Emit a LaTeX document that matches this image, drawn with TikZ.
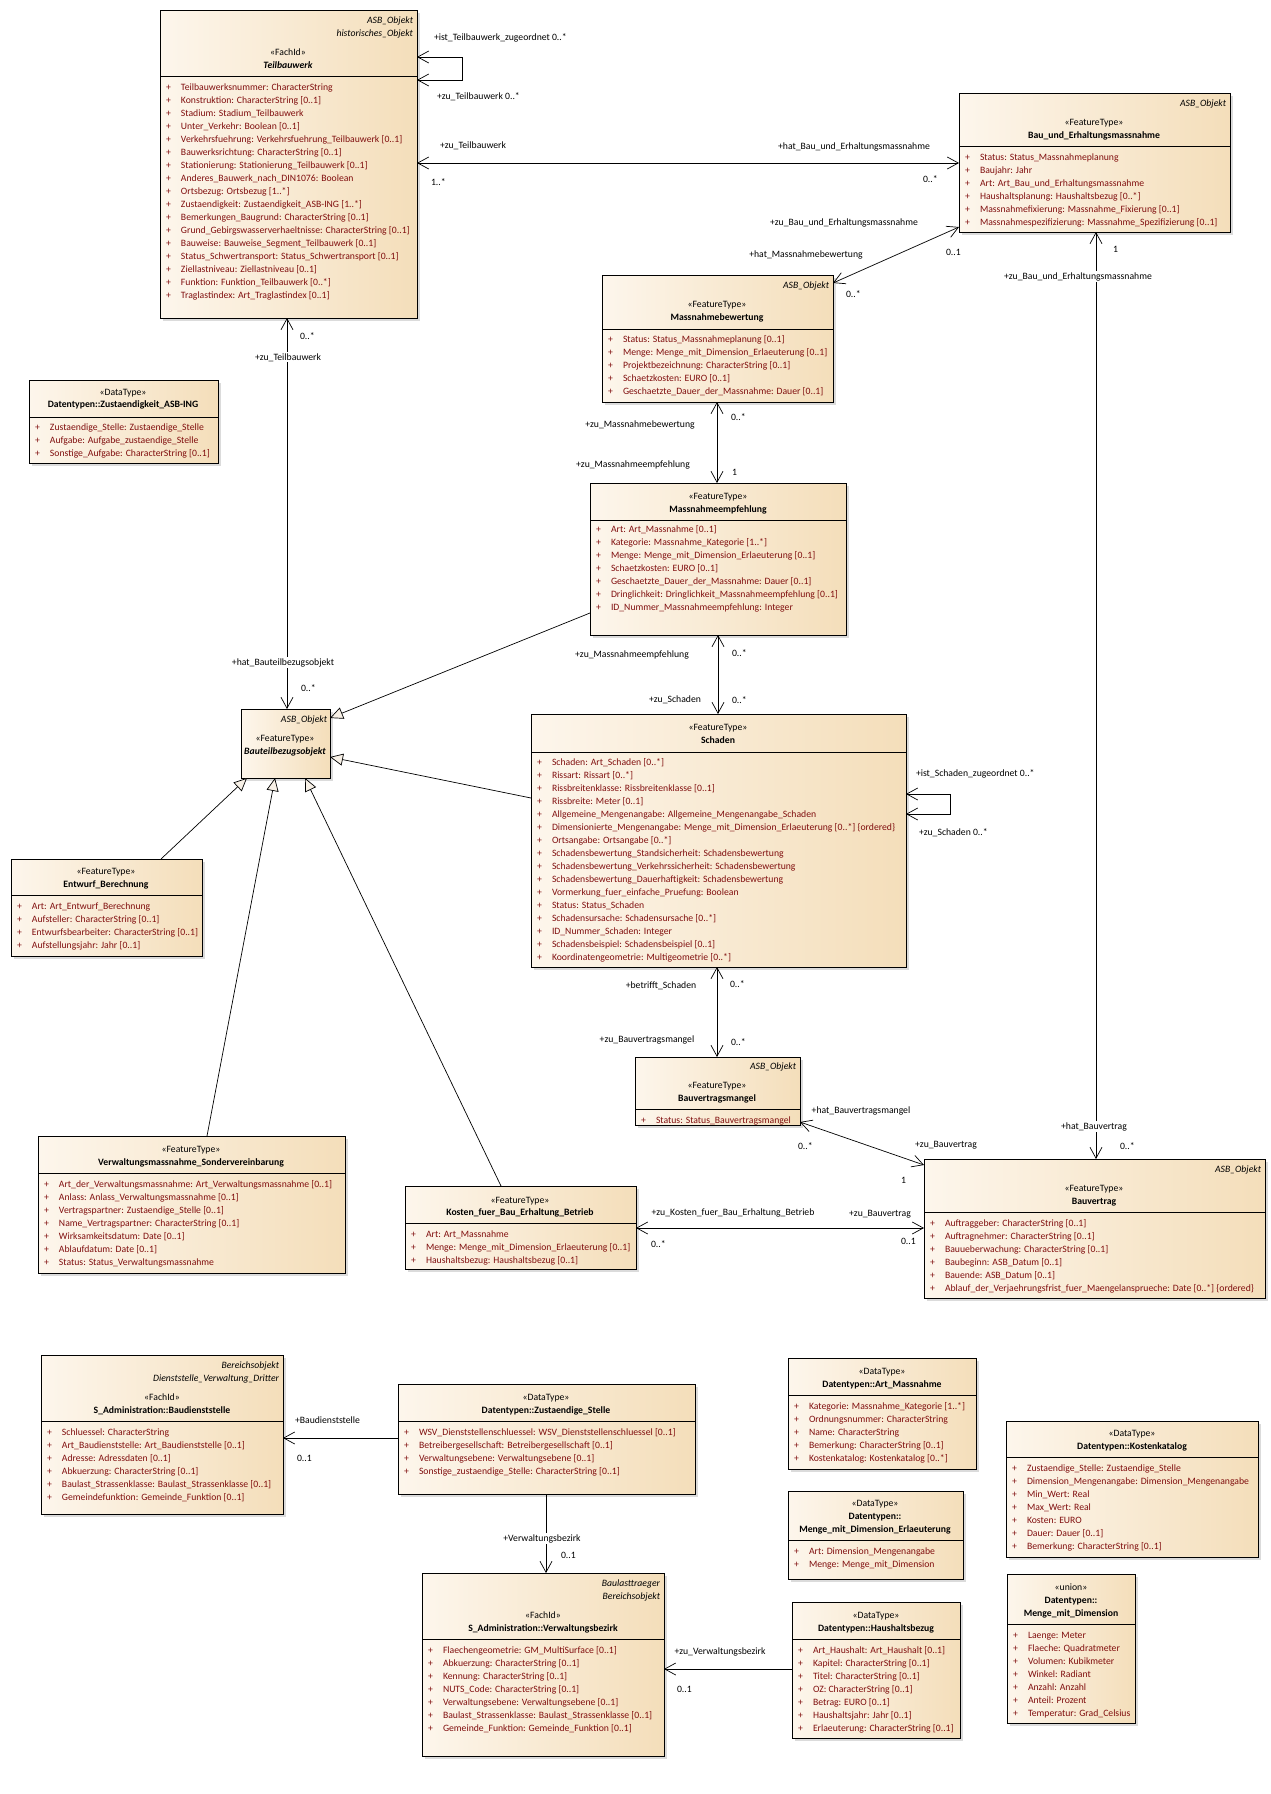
\documentclass[tikz,border=0pt]{standalone}
\usepackage{fontspec}
\setmainfont{Carlito}
\usetikzlibrary{arrows.meta,shadows}
\definecolor{attrc}{RGB}{128,14,14}
\definecolor{fillL}{RGB}{253,246,236}
\definecolor{fillR}{RGB}{244,222,186}
\definecolor{gencol}{RGB}{247,240,230}
\newcommand\fs{\fontsize{9.7}{13}\selectfont}
\newcommand\ua[1]{\makebox[15pt][l]{+}#1\\}
\newcommand\umlbox[6]{%
  \node[clsbox, minimum width={#4-#2}, minimum height={#5-#3}, anchor=north west] (#1) at (#2,#3) {};
  \draw[sepline] (#2,#6) -- (#4,#6);}
\tikzset{
  ob/.tip={Straight Barb[length=11pt,width=12pt]},
  gt/.tip={Triangle[length=13pt,width=12pt,fill=gencol]},
}
\begin{document}
\begin{tikzpicture}[x=1pt,y=-1pt,
  every node/.style={inner sep=0pt, outer sep=0pt},
  clsbox/.style={draw=black, line width=0.75pt, left color=fillL, right color=fillR,
    drop shadow={shadow xshift=3pt, shadow yshift=-3pt, fill=black!14, opacity=1}},
  sepline/.style={draw=black, line width=0.75pt},
  assoc/.style={draw=black, line width=0.7pt},
  stereo/.style={font=\fs, anchor=base, yshift=-3pt},
  cname/.style={font=\fs\bfseries, anchor=base, yshift=-3pt},
  aname/.style={font=\fs\bfseries\itshape, anchor=base, yshift=-3pt},
  tag/.style={font=\fs\itshape, anchor=base east, yshift=-3pt},
  attrs/.style={font=\fs, text=attrc, anchor=base west, yshift=-3pt},
  lbl/.style={font=\fs, anchor=base, yshift=-3pt, fill=white, inner sep=1pt},
  lblw/.style={lbl, anchor=base west},
]
\fill[white] (0,0) rectangle (1271,1794);
\useasboundingbox (0,0) rectangle (1271,1794);

% ---------- boxes ----------
\umlbox{tb}{160}{10}{417}{318}{76}
\umlbox{bau}{959}{93}{1230}{232}{146}
\umlbox{mb}{602}{275}{833}{402}{329}
\umlbox{me}{590}{483}{846}{635}{520}
\umlbox{sch}{531}{714}{906}{967}{752}
\umlbox{zasb}{29}{380}{218}{463}{417}
\node[clsbox, minimum width=89, minimum height=69, anchor=north west] (bto) at (241,709) {};
\umlbox{ent}{11}{859}{202}{956}{895}
\umlbox{vwm}{38}{1136}{345}{1273}{1173}
\umlbox{kos}{405}{1186}{636}{1269}{1223}
\umlbox{bvm}{635}{1057}{800}{1125}{1109}
\umlbox{bv}{924}{1159}{1265}{1298}{1212}
\umlbox{bds}{41}{1355}{283}{1514}{1421}
\umlbox{zs}{398}{1384}{695}{1494}{1421}
\umlbox{vb}{422}{1573}{664}{1756}{1639}
\umlbox{hh}{792}{1602}{960}{1738}{1639}
\umlbox{am}{788}{1358}{976}{1469}{1395}
\umlbox{mde}{788}{1491}{963}{1579}{1540}
\umlbox{kk}{1006}{1421}{1258}{1557}{1457}
\umlbox{mmd}{1007}{1574}{1135}{1723}{1624}

% ---------- headers ----------
\node[tag] (tb-g1) at (413,20) {ASB\_Objekt};
\node[tag] (tb-g2) at (413,33) {historisches\_Objekt};
\node[stereo] (tb-s) at (288,52) {«FachId»};
\node[aname] (tb-n) at (288,65) {Teilbauwerk};

\node[tag] (bau-g) at (1226,103) {ASB\_Objekt};
\node[stereo] (bau-s) at (1094,122) {«FeatureType»};
\node[cname] (bau-n) at (1094,135) {Bau\_und\_Erhaltungsmassnahme};

\node[tag] (mb-g) at (829,285) {ASB\_Objekt};
\node[stereo] (mb-s) at (717,304) {«FeatureType»};
\node[cname] (mb-n) at (717,317) {Massnahmebewertung};

\node[stereo] (me-s) at (718,496) {«FeatureType»};
\node[cname] (me-n) at (718,509) {Massnahmeempfehlung};

\node[stereo] (sch-s) at (718,727) {«FeatureType»};
\node[cname] (sch-n) at (718,740) {Schaden};

\node[stereo] (zasb-s) at (123,392) {«DataType»};
\node[cname] (zasb-n) at (123,404) {Datentypen::Zustaendigkeit\_ASB-ING};

\node[tag] (bto-g) at (327,719) {ASB\_Objekt};
\node[stereo] (bto-s) at (285,738) {«FeatureType»};
\node[aname] (bto-n) at (285,751) {Bauteilbezugsobjekt};

\node[stereo] (ent-s) at (106,871) {«FeatureType»};
\node[cname] (ent-n) at (106,884) {Entwurf\_Berechnung};

\node[stereo] (vwm-s) at (191,1149) {«FeatureType»};
\node[cname] (vwm-n) at (191,1162) {Verwaltungsmassnahme\_Sondervereinbarung};

\node[stereo] (kos-s) at (520,1200) {«FeatureType»};
\node[cname] (kos-n) at (520,1212) {Kosten\_fuer\_Bau\_Erhaltung\_Betrieb};

\node[tag] (bvm-g) at (796,1066) {ASB\_Objekt};
\node[stereo] (bvm-s) at (717,1085) {«FeatureType»};
\node[cname] (bvm-n) at (717,1098) {Bauvertragsmangel};

\node[tag] (bv-g) at (1261,1169) {ASB\_Objekt};
\node[stereo] (bv-s) at (1094,1188) {«FeatureType»};
\node[cname] (bv-n) at (1094,1201) {Bauvertrag};

\node[tag] (bds-g1) at (279,1365) {Bereichsobjekt};
\node[tag] (bds-g2) at (279,1378) {Dienststelle\_Verwaltung\_Dritter};
\node[stereo] (bds-s) at (162,1397) {«FachId»};
\node[cname] (bds-n) at (162,1410) {S\_Administration::Baudienststelle};

\node[stereo] (zs-s) at (546,1397) {«DataType»};
\node[cname] (zs-n) at (546,1410) {Datentypen::Zustaendige\_Stelle};

\node[tag] (vb-g1) at (660,1583) {Baulasttraeger};
\node[tag] (vb-g2) at (660,1596) {Bereichsobjekt};
\node[stereo] (vb-s) at (543,1615) {«FachId»};
\node[cname] (vb-n) at (543,1628) {S\_Administration::Verwaltungsbezirk};

\node[stereo] (hh-s) at (876,1615) {«DataType»};
\node[cname] (hh-n) at (876,1628) {Datentypen::Haushaltsbezug};

\node[stereo] (am-s) at (882,1371) {«DataType»};
\node[cname] (am-n) at (882,1384) {Datentypen::Art\_Massnahme};

\node[stereo] (mde-s) at (875,1503) {«DataType»};
\node[cname] (mde-n1) at (875,1516) {Datentypen::};
\node[cname] (mde-n2) at (875,1529) {Menge\_mit\_Dimension\_Erlaeuterung};

\node[stereo] (kk-s) at (1132,1433) {«DataType»};
\node[cname] (kk-n) at (1132,1446) {Datentypen::Kostenkatalog};

\node[stereo] (mmd-s) at (1071,1587) {«union»};
\node[cname] (mmd-n1) at (1071,1600) {Datentypen::};
\node[cname] (mmd-n2) at (1071,1613) {Menge\_mit\_Dimension};

% ---------- attributes ----------
\node[attrs] (tb-a) at (166,87) {\begin{tabular}[t]{@{}l@{}}
\ua{Teilbauwerksnummer: CharacterString}
\ua{Konstruktion: CharacterString [0..1]}
\ua{Stadium: Stadium\_Teilbauwerk}
\ua{Unter\_Verkehr: Boolean [0..1]}
\ua{Verkehrsfuehrung: Verkehrsfuehrung\_Teilbauwerk [0..1]}
\ua{Bauwerksrichtung: CharacterString [0..1]}
\ua{Stationierung: Stationierung\_Teilbauwerk [0..1]}
\ua{Anderes\_Bauwerk\_nach\_DIN1076: Boolean}
\ua{Ortsbezug: Ortsbezug [1..*]}
\ua{Zustaendigkeit: Zustaendigkeit\_ASB-ING [1..*]}
\ua{Bemerkungen\_Baugrund: CharacterString [0..1]}
\ua{Grund\_Gebirgswasserverhaeltnisse: CharacterString [0..1]}
\ua{Bauweise: Bauweise\_Segment\_Teilbauwerk [0..1]}
\ua{Status\_Schwertransport: Status\_Schwertransport [0..1]}
\ua{Ziellastniveau: Ziellastniveau [0..1]}
\ua{Funktion: Funktion\_Teilbauwerk [0..*]}
\ua{Traglastindex: Art\_Traglastindex [0..1]}
\end{tabular}};

\node[attrs] (bau-a) at (965,157) {\begin{tabular}[t]{@{}l@{}}
\ua{Status: Status\_Massnahmeplanung}
\ua{Baujahr: Jahr}
\ua{Art: Art\_Bau\_und\_Erhaltungsmassnahme}
\ua{Haushaltsplanung: Haushaltsbezug [0..*]}
\ua{Massnahmefixierung: Massnahme\_Fixierung [0..1]}
\ua{Massnahmespezifizierung: Massnahme\_Spezifizierung [0..1]}
\end{tabular}};

\node[attrs] (mb-a) at (608,339) {\begin{tabular}[t]{@{}l@{}}
\ua{Status: Status\_Massnahmeplanung [0..1]}
\ua{Menge: Menge\_mit\_Dimension\_Erlaeuterung [0..1]}
\ua{Projektbezeichnung: CharacterString [0..1]}
\ua{Schaetzkosten: EURO [0..1]}
\ua{Geschaetzte\_Dauer\_der\_Massnahme: Dauer [0..1]}
\end{tabular}};

\node[attrs] (me-a) at (596,529) {\begin{tabular}[t]{@{}l@{}}
\ua{Art: Art\_Massnahme [0..1]}
\ua{Kategorie: Massnahme\_Kategorie [1..*]}
\ua{Menge: Menge\_mit\_Dimension\_Erlaeuterung [0..1]}
\ua{Schaetzkosten: EURO [0..1]}
\ua{Geschaetzte\_Dauer\_der\_Massnahme: Dauer [0..1]}
\ua{Dringlichkeit: Dringlichkeit\_Massnahmeempfehlung [0..1]}
\ua{ID\_Nummer\_Massnahmeempfehlung: Integer}
\end{tabular}};

\node[attrs] (sch-a) at (537,762) {\begin{tabular}[t]{@{}l@{}}
\ua{Schaden: Art\_Schaden [0..*]}
\ua{Rissart: Rissart [0..*]}
\ua{Rissbreitenklasse: Rissbreitenklasse [0..1]}
\ua{Rissbreite: Meter [0..1]}
\ua{Allgemeine\_Mengenangabe: Allgemeine\_Mengenangabe\_Schaden}
\ua{Dimensionierte\_Mengenangabe: Menge\_mit\_Dimension\_Erlaeuterung [0..*] \{ordered\}}
\ua{Ortsangabe: Ortsangabe [0..*]}
\ua{Schadensbewertung\_Standsicherheit: Schadensbewertung}
\ua{Schadensbewertung\_Verkehrssicherheit: Schadensbewertung}
\ua{Schadensbewertung\_Dauerhaftigkeit: Schadensbewertung}
\ua{Vormerkung\_fuer\_einfache\_Pruefung: Boolean}
\ua{Status: Status\_Schaden}
\ua{Schadensursache: Schadensursache [0..*]}
\ua{ID\_Nummer\_Schaden: Integer}
\ua{Schadensbeispiel: Schadensbeispiel [0..1]}
\ua{Koordinatengeometrie: Multigeometrie [0..*]}
\end{tabular}};

\node[attrs] (zasb-a) at (35,427) {\begin{tabular}[t]{@{}l@{}}
\ua{Zustaendige\_Stelle: Zustaendige\_Stelle}
\ua{Aufgabe: Aufgabe\_zustaendige\_Stelle}
\ua{Sonstige\_Aufgabe: CharacterString [0..1]}
\end{tabular}};

\node[attrs] (ent-a) at (17,906) {\begin{tabular}[t]{@{}l@{}}
\ua{Art: Art\_Entwurf\_Berechnung}
\ua{Aufsteller: CharacterString [0..1]}
\ua{Entwurfsbearbeiter: CharacterString [0..1]}
\ua{Aufstellungsjahr: Jahr [0..1]}
\end{tabular}};

\node[attrs] (vwm-a) at (44,1184) {\begin{tabular}[t]{@{}l@{}}
\ua{Art\_der\_Verwaltungsmassnahme: Art\_Verwaltungsmassnahme [0..1]}
\ua{Anlass: Anlass\_Verwaltungsmassnahme [0..1]}
\ua{Vertragspartner: Zustaendige\_Stelle [0..1]}
\ua{Name\_Vertragspartner: CharacterString [0..1]}
\ua{Wirksamkeitsdatum: Date [0..1]}
\ua{Ablaufdatum: Date [0..1]}
\ua{Status: Status\_Verwaltungsmassnahme}
\end{tabular}};

\node[attrs] (kos-a) at (411,1234) {\begin{tabular}[t]{@{}l@{}}
\ua{Art: Art\_Massnahme}
\ua{Menge: Menge\_mit\_Dimension\_Erlaeuterung [0..1]}
\ua{Haushaltsbezug: Haushaltsbezug [0..1]}
\end{tabular}};

\node[attrs] (bvm-a) at (641,1120) {\begin{tabular}[t]{@{}l@{}}
\ua{Status: Status\_Bauvertragsmangel}
\end{tabular}};

\node[attrs] (bv-a) at (930,1223) {\begin{tabular}[t]{@{}l@{}}
\ua{Auftraggeber: CharacterString [0..1]}
\ua{Auftragnehmer: CharacterString [0..1]}
\ua{Bauueberwachung: CharacterString [0..1]}
\ua{Baubeginn: ASB\_Datum [0..1]}
\ua{Bauende: ASB\_Datum [0..1]}
\ua{Ablauf\_der\_Verjaehrungsfrist\_fuer\_Maengelansprueche: Date [0..*] \{ordered\}}
\end{tabular}};

\node[attrs] (bds-a) at (47,1432) {\begin{tabular}[t]{@{}l@{}}
\ua{Schluessel: CharacterString}
\ua{Art\_Baudienststelle: Art\_Baudienststelle [0..1]}
\ua{Adresse: Adressdaten [0..1]}
\ua{Abkuerzung: CharacterString [0..1]}
\ua{Baulast\_Strassenklasse: Baulast\_Strassenklasse [0..1]}
\ua{Gemeindefunktion: Gemeinde\_Funktion [0..1]}
\end{tabular}};

\node[attrs] (zs-a) at (404,1432) {\begin{tabular}[t]{@{}l@{}}
\ua{WSV\_Dienststellenschluessel: WSV\_Dienststellenschluessel [0..1]}
\ua{Betreibergesellschaft: Betreibergesellschaft [0..1]}
\ua{Verwaltungsebene: Verwaltungsebene [0..1]}
\ua{Sonstige\_zustaendige\_Stelle: CharacterString [0..1]}
\end{tabular}};

\node[attrs] (vb-a) at (428,1650) {\begin{tabular}[t]{@{}l@{}}
\ua{Flaechengeometrie: GM\_MultiSurface [0..1]}
\ua{Abkuerzung: CharacterString [0..1]}
\ua{Kennung: CharacterString [0..1]}
\ua{NUTS\_Code: CharacterString [0..1]}
\ua{Verwaltungsebene: Verwaltungsebene [0..1]}
\ua{Baulast\_Strassenklasse: Baulast\_Strassenklasse [0..1]}
\ua{Gemeinde\_Funktion: Gemeinde\_Funktion [0..1]}
\end{tabular}};

\node[attrs] (hh-a) at (798,1650) {\begin{tabular}[t]{@{}l@{}}
\ua{Art\_Haushalt: Art\_Haushalt [0..1]}
\ua{Kapitel: CharacterString [0..1]}
\ua{Titel: CharacterString [0..1]}
\ua{OZ: CharacterString [0..1]}
\ua{Betrag: EURO [0..1]}
\ua{Haushaltsjahr: Jahr [0..1]}
\ua{Erlaeuterung: CharacterString [0..1]}
\end{tabular}};

\node[attrs] (am-a) at (794,1406) {\begin{tabular}[t]{@{}l@{}}
\ua{Kategorie: Massnahme\_Kategorie [1..*]}
\ua{Ordnungsnummer: CharacterString}
\ua{Name: CharacterString}
\ua{Bemerkung: CharacterString [0..1]}
\ua{Kostenkatalog: Kostenkatalog [0..*]}
\end{tabular}};

\node[attrs] (mde-a) at (794,1551) {\begin{tabular}[t]{@{}l@{}}
\ua{Art: Dimension\_Mengenangabe}
\ua{Menge: Menge\_mit\_Dimension}
\end{tabular}};

\node[attrs] (kk-a) at (1012,1468) {\begin{tabular}[t]{@{}l@{}}
\ua{Zustaendige\_Stelle: Zustaendige\_Stelle}
\ua{Dimension\_Mengenangabe: Dimension\_Mengenangabe}
\ua{Min\_Wert: Real}
\ua{Max\_Wert: Real}
\ua{Kosten: EURO}
\ua{Dauer: Dauer [0..1]}
\ua{Bemerkung: CharacterString [0..1]}
\end{tabular}};

\node[attrs] (mmd-a) at (1013,1635) {\begin{tabular}[t]{@{}l@{}}
\ua{Laenge: Meter}
\ua{Flaeche: Quadratmeter}
\ua{Volumen: Kubikmeter}
\ua{Winkel: Radiant}
\ua{Anzahl: Anzahl}
\ua{Anteil: Prozent}
\ua{Temperatur: Grad\_Celsius}
\end{tabular}};

% ---------- connectors ----------
\draw[assoc, ob-ob] (tb.east |- 0,57) -- (462,57) -- (462,80) -- (tb.east |- 0,80);
\draw[assoc, ob-ob] (tb.east |- 0,163) -- (bau.west |- 0,163);
\draw[assoc, ob-ob] (bau.west |- 0,227) -- (mb.east |- 0,283);
\draw[assoc, ob-ob] (bau.south -| 1096,0) -- (bv.north -| 1096,0);
\draw[assoc, ob-ob] (mb.south -| 717,0) -- (me.north -| 717,0);
\draw[assoc, ob-ob] (me.south -| 718,0) -- (sch.north -| 718,0);
\draw[assoc, ob-ob] (sch.east |- 0,794) -- (950,794) -- (950,814) -- (sch.east |- 0,814);
\draw[assoc, ob-ob] (sch.south -| 717,0) -- (bvm.north -| 717,0);
\draw[assoc, ob-ob] (bvm.east |- 0,1122) -- (bv.west |- 0,1165);
\draw[assoc, ob-ob] (kos.east |- 0,1228) -- (bv.west |- 0,1228);
\draw[assoc, ob-ob] (tb.south -| 287,0) -- (bto.north -| 287,0);
\draw[assoc, -gt] (me.west |- 0,613) -- (bto.east |- 0,718);
\draw[assoc, -gt] (sch.west |- 0,798) -- (bto.east |- 0,757);
\draw[assoc, -gt] (ent.north -| 161,0) -- (bto.south -| 247,0);
\draw[assoc, -gt] (vwm.north -| 207,0) -- (bto.south -| 275,0);
\draw[assoc, -gt] (kos.north -| 501,0) -- (bto.south -| 305,0);
\draw[assoc, -ob] (zs.west |- 0,1438) -- (bds.east |- 0,1438);
\draw[assoc, -ob] (zs.south -| 546,0) -- (vb.north -| 546,0);
\draw[assoc, -ob] (hh.west |- 0,1669) -- (vb.east |- 0,1669);

% ---------- connector labels ----------
\node[lblw] (l1) at (433,37) {+ist\_Teilbauwerk\_zugeordnet 0..*};
\node[lblw] (l2) at (436,96) {+zu\_Teilbauwerk 0..*};
\node[lblw] (l3) at (439,145) {+zu\_Teilbauwerk};
\node[lblw] (l4) at (430,182) {1..*};
\node[lbl] (l5) at (854,146) {+hat\_Bau\_und\_Erhaltungsmassnahme};
\node[lblw] (l6) at (922,179) {0..*};
\node[lbl] (l7) at (844,222) {+zu\_Bau\_und\_Erhaltungsmassnahme};
\node[lblw] (l8) at (945,252) {0..1};
\node[lbl] (l9) at (806,254) {+hat\_Massnahmebewertung};
\node[lblw] (l10) at (845,294) {0..*};
\node[lblw] (l11) at (1112,249) {1};
\node[lbl] (l12) at (1078,276) {+zu\_Bau\_und\_Erhaltungsmassnahme};
\node[lbl] (l13) at (1094,1126) {+hat\_Bauvertrag};
\node[lblw] (l14) at (1119,1146) {0..*};
\node[lbl] (l15) at (640,424) {+zu\_Massnahmebewertung};
\node[lblw] (l16) at (730,417) {0..*};
\node[lbl] (l17) at (633,464) {+zu\_Massnahmeempfehlung};
\node[lblw] (l18) at (731,472) {1};
\node[lbl] (l19) at (632,654) {+zu\_Massnahmeempfehlung};
\node[lblw] (l20) at (731,653) {0..*};
\node[lbl] (l21) at (675,699) {+zu\_Schaden};
\node[lblw] (l22) at (731,700) {0..*};
\node[lblw] (l23) at (915,773) {+ist\_Schaden\_zugeordnet 0..*};
\node[lblw] (l24) at (918,832) {+zu\_Schaden 0..*};
\node[lbl] (l25) at (661,985) {+betrifft\_Schaden};
\node[lblw] (l26) at (729,984) {0..*};
\node[lbl] (l27) at (647,1039) {+zu\_Bauvertragsmangel};
\node[lblw] (l28) at (730,1042) {0..*};
\node[lbl] (l29) at (861,1110) {+hat\_Bauvertragsmangel};
\node[lblw] (l30) at (797,1146) {0..*};
\node[lbl] (l31) at (946,1144) {+zu\_Bauvertrag};
\node[lblw] (l32) at (900,1180) {1};
\node[lbl] (l33) at (733,1212) {+zu\_Kosten\_fuer\_Bau\_Erhaltung\_Betrieb};
\node[lblw] (l34) at (650,1244) {0..*};
\node[lbl] (l35) at (880,1213) {+zu\_Bauvertrag};
\node[lblw] (l36) at (900,1241) {0..1};
\node[lblw] (l37) at (299,336) {0..*};
\node[lbl] (l38) at (288,357) {+zu\_Teilbauwerk};
\node[lbl] (l39) at (283,662) {+hat\_Bauteilbezugsobjekt};
\node[lblw] (l40) at (300,688) {0..*};
\node[lblw] (l41) at (294,1420) {+Baudienststelle};
\node[lblw] (l42) at (296,1458) {0..1};
\node[lbl] (l43) at (542,1538) {+Verwaltungsbezirk};
\node[lblw] (l44) at (560,1555) {0..1};
\node[lbl] (l45) at (720,1651) {+zu\_Verwaltungsbezirk};
\node[lblw] (l46) at (676,1689) {0..1};
\end{tikzpicture}
\end{document}
